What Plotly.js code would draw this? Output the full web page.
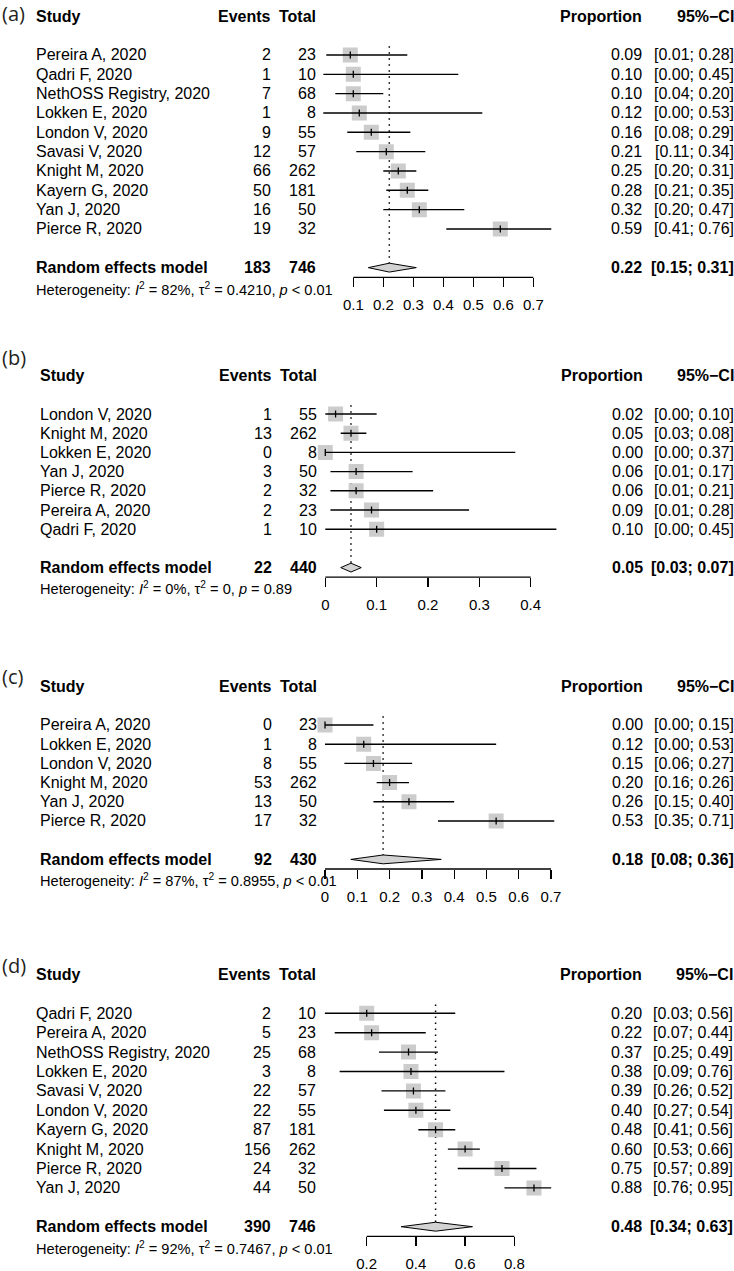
<!DOCTYPE html>
<html><head><meta charset="utf-8">
<script src="https://cdn.plot.ly/plotly-3.0.1.min.js"></script>
<style>html,body{margin:0;padding:0;background:#fff;} #chart{width:734px;height:1271px;}</style>
</head><body><div id="chart"></div>
<script>
// ---------- DATA ----------
const studiesA = ["Pereira A, 2020","Qadri F, 2020","NethOSS Registry, 2020","Lokken E, 2020","London V, 2020","Savasi V, 2020","Knight M, 2020","Kayern G, 2020","Yan J, 2020","Pierce R, 2020"];
const eventsA = [2,1,7,1,9,12,66,50,16,19];
const totalA  = [23,10,68,8,55,57,262,181,50,32];
const propA   = [0.09,0.10,0.10,0.12,0.16,0.21,0.25,0.28,0.32,0.59];
const loA     = [0.01,0.00,0.04,0.00,0.08,0.11,0.20,0.21,0.20,0.41];
const hiA     = [0.28,0.45,0.20,0.53,0.29,0.34,0.31,0.35,0.47,0.76];
const sumA    = [183,746];
const pooledA = [0.22,0.15,0.31];
const hetA    = ["82%","0.4210","&lt; 0.01"];
const tickValsA = [0.1,0.2,0.3,0.4,0.5,0.6,0.7];
const tickTextA = ["0.1","0.2","0.3","0.4","0.5","0.6","0.7"];

const studiesB = ["London V, 2020","Knight M, 2020","Lokken E, 2020","Yan J, 2020","Pierce R, 2020","Pereira A, 2020","Qadri F, 2020"];
const eventsB = [1,13,0,3,2,2,1];
const totalB  = [55,262,8,50,32,23,10];
const propB   = [0.02,0.05,0.00,0.06,0.06,0.09,0.10];
const loB     = [0.00,0.03,0.00,0.01,0.01,0.01,0.00];
const hiB     = [0.10,0.08,0.37,0.17,0.21,0.28,0.45];
const sumB    = [22,440];
const pooledB = [0.05,0.03,0.07];
const hetB    = ["0%","0","= 0.89"];
const tickValsB = [0,0.1,0.2,0.3,0.4];
const tickTextB = ["0","0.1","0.2","0.3","0.4"];

const studiesC = ["Pereira A, 2020","Lokken E, 2020","London V, 2020","Knight M, 2020","Yan J, 2020","Pierce R, 2020"];
const eventsC = [0,1,8,53,13,17];
const totalC  = [23,8,55,262,50,32];
const propC   = [0.00,0.12,0.15,0.20,0.26,0.53];
const loC     = [0.00,0.00,0.06,0.16,0.15,0.35];
const hiC     = [0.15,0.53,0.27,0.26,0.40,0.71];
const sumC    = [92,430];
const pooledC = [0.18,0.08,0.36];
const hetC    = ["87%","0.8955","&lt; 0.01"];
const tickValsC = [0,0.1,0.2,0.3,0.4,0.5,0.6,0.7];
const tickTextC = ["0","0.1","0.2","0.3","0.4","0.5","0.6","0.7"];

const studiesD = ["Qadri F, 2020","Pereira A, 2020","NethOSS Registry, 2020","Lokken E, 2020","Savasi V, 2020","London V, 2020","Kayern G, 2020","Knight M, 2020","Pierce R, 2020","Yan J, 2020"];
const eventsD = [2,5,25,3,22,22,87,156,24,44];
const totalD  = [10,23,68,8,57,55,181,262,32,50];
const propD   = [0.20,0.22,0.37,0.38,0.39,0.40,0.48,0.60,0.75,0.88];
const loD     = [0.03,0.07,0.25,0.09,0.26,0.27,0.41,0.53,0.57,0.76];
const hiD     = [0.56,0.44,0.49,0.76,0.52,0.54,0.56,0.66,0.89,0.95];
const sumD    = [390,746];
const pooledD = [0.48,0.34,0.63];
const hetD    = ["92%","0.7467","&lt; 0.01"];
const tickValsD = [0.2,0.4,0.6,0.8];
const tickTextD = ["0.2","0.4","0.6","0.8"];

const panelLabels = ["(a)","(b)","(c)","(d)"];

// ---------- LAYOUT GEOMETRY (pixels) ----------
const W = 734, H = 1271;
const geo = [
  {r0:55,    s:19.33, v0:0.1, px0:353.3, scale:300,   xStudy:36, xEv:271.3, xTot:315.7, xProp:642.3, xCI:733.5, labelY:13},
  {r0:414,   s:19.2,  v0:0.0, px0:325.3, scale:513.5, xStudy:40, xEv:271.7, xTot:316.7, xProp:643.3, xCI:733.8, labelY:357},
  {r0:725,   s:19.2,  v0:0.0, px0:325.0, scale:322.9, xStudy:40, xEv:271.7, xTot:316.7, xProp:643.3, xCI:733.8, labelY:677},
  {r0:1013.3,s:19.4,  v0:0.2, px0:366.7, scale:246,   xStudy:36, xEv:270.7, xTot:315.7, xProp:642.3, xCI:733.3, labelY:965}
];
const panels = [
  {studies:studiesA, ev:eventsA, tot:totalA, p:propA, lo:loA, hi:hiA, sum:sumA, pooled:pooledA, het:hetA, tv:tickValsA, tt:tickTextA},
  {studies:studiesB, ev:eventsB, tot:totalB, p:propB, lo:loB, hi:hiB, sum:sumB, pooled:pooledB, het:hetB, tv:tickValsB, tt:tickTextB},
  {studies:studiesC, ev:eventsC, tot:totalC, p:propC, lo:loC, hi:hiC, sum:sumC, pooled:pooledC, het:hetC, tv:tickValsC, tt:tickTextC},
  {studies:studiesD, ev:eventsD, tot:totalD, p:propD, lo:loD, hi:hiD, sum:sumD, pooled:pooledD, het:hetD, tv:tickValsD, tt:tickTextD}
];

const FONT = "Liberation Sans, Arial, Helvetica, sans-serif";
const traces = [];
const annotations = [];
const shapes = [];
const layout = {
  width: W, height: H, margin: {l:0, r:0, t:0, b:0},
  paper_bgcolor: "#fff", plot_bgcolor: "rgba(0,0,0,0)",
  showlegend: false, font: {family: FONT, size: 16, color: "#000"}
};

const XDOM = [306, 574];
const DH = 0.23; // diamond half-height in rows

panels.forEach((P, i) => {
  const g = geo[i];
  const n = P.studies.length;
  const k = i + 1;
  const xa = "x" + k, ya = "y" + k;
  const xKey = "xaxis" + (k === 1 ? "" : k), yKey = "yaxis" + (k === 1 ? "" : k);
  const topU = -2.8, botU = n + 3.2;
  const pxTop = g.r0 + topU * g.s, pxBot = g.r0 + botU * g.s;
  const yDom = [Math.max(0, 1 - pxBot / H), Math.min(1, 1 - pxTop / H)];
  const xRange = [g.v0 + (XDOM[0] - g.px0) / g.scale, g.v0 + (XDOM[1] - g.px0) / g.scale];
  const axisU = n + 1.5;
  const reU = n + 1;

  layout[yKey] = {domain: yDom, range: [botU, topU], visible: false, fixedrange: true};
  layout[xKey] = {
    domain: [XDOM[0] / W, XDOM[1] / W], range: xRange, anchor: "free",
    position: 1 - (g.r0 + axisU * g.s) / H,
    tickmode: "array", tickvals: P.tv, ticktext: P.tt,
    ticks: "outside", ticklen: 9, tickwidth: 1.3, tickcolor: "#000",
    showline: false, showgrid: false, zeroline: false,
    tickfont: {family: FONT, size: 15, color: "#000"},
    ticklabelstandoff: 5, fixedrange: true
  };
  shapes.push({type: "line", xref: xa, yref: ya, x0: P.tv[0], x1: P.tv[P.tv.length - 1], y0: axisU, y1: axisU,
               line: {color: "#000", width: 1.3}, layer: "above"});

  const rows = P.studies.map((_, j) => j);

  traces.push({type: "scatter", mode: "lines", xaxis: xa, yaxis: ya, hoverinfo: "skip",
    x: [P.pooled[0], P.pooled[0]], y: [-0.45, reU],
    line: {color: "#000", width: 1.5, dash: "1.5px,4.5px"}});
  traces.push({type: "scatter", mode: "markers", xaxis: xa, yaxis: ya, hoverinfo: "skip",
    x: P.p, y: rows, marker: {symbol: "square", size: 15, color: "#cccccc", line: {width: 0}}});
  const cx = [], cy = [];
  rows.forEach(j => { cx.push(P.lo[j], P.hi[j], null); cy.push(j, j, null); });
  traces.push({type: "scatter", mode: "lines", xaxis: xa, yaxis: ya, hoverinfo: "skip",
    x: cx, y: cy, line: {color: "#000", width: 1.4}});
  traces.push({type: "scatter", mode: "markers", xaxis: xa, yaxis: ya, hoverinfo: "skip",
    x: P.p, y: rows, marker: {symbol: "line-ns-open", size: 5, color: "#000", line: {width: 1.3, color: "#000"}}});
  traces.push({type: "scatter", mode: "lines", xaxis: xa, yaxis: ya, hoverinfo: "skip",
    x: [P.pooled[1], P.pooled[0], P.pooled[2], P.pooled[0], P.pooled[1]],
    y: [reU, reU - DH, reU, reU + DH, reU],
    fill: "toself", fillcolor: "#d3d3d3", line: {color: "#000", width: 1}});

  const ann = (text, xpx, y, anchor, opts) => Object.assign({
    text: text, x: xpx / W, xref: "paper", y: y, yref: ya, xanchor: anchor, yanchor: "middle",
    showarrow: false, borderpad: 0, borderwidth: 0, font: {family: FONT, size: 16, color: "#000"}
  }, opts || {});
  const b = t => "<b>" + t + "</b>";

  annotations.push({text: panelLabels[i], x: 2 / W, xref: "paper", y: 1 - g.labelY / H, yref: "paper",
    xanchor: "left", yanchor: "middle", showarrow: false, borderpad: 0, borderwidth: 0,
    font: {family: "Open Sans, Noto Sans, sans-serif", size: 20, color: "#231f20"}});

  annotations.push(ann(b("Study"), g.xStudy, -2, "left"));
  annotations.push(ann(b("Events"), g.xEv, -2, "right"));
  annotations.push(ann(b("Total"), g.xTot, -2, "right"));
  annotations.push(ann(b("Proportion"), g.xProp, -2, "right"));
  annotations.push(ann(b("95%−CI"), g.xCI, -2, "right"));

  rows.forEach(j => {
    annotations.push(ann(P.studies[j], g.xStudy, j, "left"));
    annotations.push(ann(String(P.ev[j]), g.xEv, j, "right"));
    annotations.push(ann(String(P.tot[j]), g.xTot, j, "right"));
    annotations.push(ann(P.p[j].toFixed(2), g.xProp, j, "right"));
    annotations.push(ann("[" + P.lo[j].toFixed(2) + "; " + P.hi[j].toFixed(2) + "]", g.xCI, j, "right"));
  });

  annotations.push(ann(b("Random effects model"), g.xStudy, reU, "left"));
  annotations.push(ann(b(String(P.sum[0])), g.xEv, reU, "right"));
  annotations.push(ann(b(String(P.sum[1])), g.xTot, reU, "right"));
  annotations.push(ann(b(P.pooled[0].toFixed(2)), g.xProp, reU, "right"));
  annotations.push(ann(b("[" + P.pooled[1].toFixed(2) + "; " + P.pooled[2].toFixed(2) + "]"), g.xCI, reU, "right"));

  annotations.push(ann("Heterogeneity: <i>I</i><sup>2</sup> = " + P.het[0] + ", τ<sup>2</sup> = " + P.het[1] + ", <i>p</i> " + P.het[2],
    g.xStudy, n + 2.08, "left", {font: {family: FONT, size: 14.6, color: "#000"}}));
});

layout.annotations = annotations;
layout.shapes = shapes;

Plotly.newPlot("chart", traces, layout, {staticPlot: true, displayModeBar: false});
</script></body></html>
